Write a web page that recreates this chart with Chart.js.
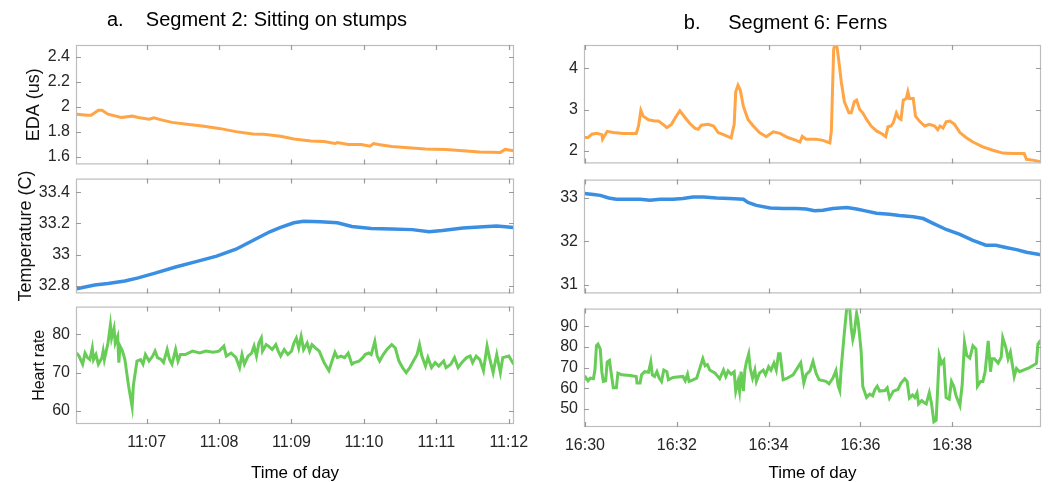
<!DOCTYPE html>
<html>
<head>
<meta charset="utf-8">
<script src="https://cdn.jsdelivr.net/npm/chart.js"></script>
<style>
  body { margin: 0; width: 1049px; height: 482px; overflow: hidden; position: relative; background: #fff; }
  canvas { position: absolute; }
</style>
</head>
<body>
<canvas id="edaA" width="529" height="180" style="left:0;top:0"></canvas>
<canvas id="tempA" width="529" height="146" style="left:0;top:163px"></canvas>
<canvas id="hrA" width="545" height="193" style="left:0;top:291px"></canvas>
<canvas id="edaB" width="519" height="179" style="left:530px;top:0"></canvas>
<canvas id="tempB" width="519" height="145" style="left:530px;top:164px"></canvas>
<canvas id="hrB" width="519" height="191" style="left:530px;top:293px"></canvas>
<script>
// time in seconds after the hour (11:xx for segment 2, 16:xx for segment 6)
const ticksA = [420, 480, 540, 600, 660, 720];
const tickLabelsA = ['11:07', '11:08', '11:09', '11:10', '11:11', '11:12'];
const ticksB = [1800, 1920, 2040, 2160, 2280];
const tickLabelsB = ['16:30', '16:32', '16:34', '16:36', '16:38'];

const edaTicksA = [1.6, 1.8, 2.0, 2.2, 2.4];
const edaLabelsA = ['1.6', '1.8', '2', '2.2', '2.4'];
const tempTicksA = [32.8, 33, 33.2, 33.4];
const tempLabelsA = ['32.8', '33', '33.2', '33.4'];
const hrTicksA = [60, 70, 80];
const edaTicksB = [2, 3, 4];
const tempTicksB = [31, 32, 33];
const hrTicksB = [50, 60, 70, 80, 90];

const edaA = [[362,1.94],[371,1.932],[374,1.932],[380,1.971],[383,1.971],[388,1.94],[399,1.913],[408,1.924],[413,1.913],[422,1.9],
  [426,1.911],[433,1.892],[441,1.874],[455,1.858],[466,1.845],[480,1.826],[494,1.8],[508,1.782],[517,1.779],[531,1.763],
  [542,1.742],[556,1.726],[567,1.721],[576,1.705],[578,1.713],[587,1.697],[598,1.697],[605,1.684],[608,1.705],[612,1.697],
  [623,1.682],[634,1.674],[651,1.661],[668,1.658],[682,1.647],[696,1.637],[713,1.634],[717,1.658],[724,1.647]];

const tempA = [[362,32.78],[377,32.804],[388,32.814],[402,32.83],[413,32.85],[427,32.88],[444,32.92],[461,32.954],[478,32.99],[494,33.034],
  [508,33.09],[522,33.146],[531,33.174],[542,33.204],[550,33.214],[564,33.21],[578,33.204],[590,33.18],[606,33.168],[623,33.164],
  [640,33.16],[654,33.146],[665,33.154],[682,33.17],[699,33.178],[710,33.184],[724,33.174]];

const hrA = [[362,75.1],[364,74.3],[367,72.2],[369,75.1],[371,73.9],[373,73.4],[375,76.4],[376,73.4],[378,74.7],[380,72.2],
  [383,73.9],[384,75.6],[385,73.4],[388,77.7],[390,82.4],[391,79],[393,81.5],[394,77.7],[396,79.4],[397,72.6],
  [398,76.9],[400,75.6],[402,73.4],[405,66.6],[408,61.1],[409,66.6],[412,73],[415,73.4],[417,72.2],[419,74.7],
  [422,73],[425,74.3],[427,75.6],[429,73.9],[432,73.4],[434,72.6],[437,76],[439,73.4],[441,72.2],[444,76],
  [446,73],[448,74.7],[452,74.7],[458,75.6],[464,75.1],[469,75.6],[475,75.3],[480,75.6],[484,76.9],[486,74.3],
  [490,75.1],[494,73.9],[497,71.3],[499,74.7],[501,72.2],[504,74.3],[507,75.1],[509,76.9],[511,74.3],[513,77.7],
  [515,79],[516,75.6],[519,77.3],[521,76.9],[524,76],[527,77.3],[529,75.6],[531,74.3],[534,76],[537,74.7],
  [540,75.6],[542,77.7],[544,79],[546,76.4],[548,79.4],[550,76],[553,77.7],[555,75.6],[557,77.3],[560,76.4],
  [563,75.6],[567,72.6],[571,70.5],[574,73.4],[576,75.3],[578,73.9],[581,74.3],[584,73.9],[587,75.1],[590,72.2],
  [592,72.6],[596,73],[599,73.9],[601,74.7],[604,75.1],[606,74.7],[609,78.1],[611,74.3],[613,73],[616,74.7],
  [619,76],[623,77.3],[626,76.4],[629,73],[632,71.3],[635,70],[638,71.3],[641,73],[644,74.7],[646,77.3],
  [648,74.3],[651,71.7],[653,73.9],[656,71.3],[659,72.6],[662,71.7],[666,73],[668,71.3],[672,72.2],[675,73.9],
  [678,71.3],[681,72.6],[685,73.9],[688,74.3],[690,72.6],[693,74.3],[696,73.4],[699,70.5],[702,76.9],[704,73.9],
  [707,70],[710,74.7],[713,70],[715,73.9],[720,74.3],[724,72.2]];

const edaB = [[1799,2.32],[1804,2.32],[1809,2.40],[1815,2.42],[1822,2.39],[1823,2.28],[1829,2.47],[1837,2.44],[1850,2.42],[1867,2.42],
  [1870,2.60],[1873,2.98],[1876,2.84],[1883,2.75],[1891,2.72],[1896,2.72],[1902,2.64],[1907,2.56],[1913,2.64],[1918,2.80],
  [1924,2.97],[1931,2.80],[1937,2.66],[1944,2.54],[1948,2.52],[1952,2.62],[1961,2.64],[1968,2.60],[1974,2.44],[1981,2.39],
  [1987,2.34],[1991,2.31],[1995,2.64],[1997,3.43],[2000,3.59],[2003,3.47],[2007,3.08],[2013,2.76],[2020,2.60],[2028,2.44],
  [2037,2.34],[2046,2.46],[2055,2.42],[2065,2.32],[2076,2.25],[2081,2.21],[2084,2.35],[2089,2.28],[2102,2.28],[2111,2.25],
  [2120,2.19],[2122,2.48],[2125,4.46],[2128,4.70],[2131,4.30],[2135,3.67],[2139,3.19],[2145,2.92],[2148,2.92],[2152,3.19],
  [2155,3.23],[2159,3.00],[2163,2.92],[2168,2.76],[2174,2.60],[2181,2.48],[2189,2.40],[2193,2.34],[2196,2.58],[2200,2.60],
  [2203,2.68],[2207,2.92],[2210,2.80],[2213,2.76],[2216,3.23],[2220,3.27],[2222,3.43],[2224,3.27],[2229,3.27],[2232,2.84],
  [2237,2.72],[2244,2.60],[2250,2.64],[2257,2.60],[2261,2.51],[2264,2.60],[2268,2.55],[2272,2.70],[2277,2.72],[2283,2.64],
  [2290,2.44],[2298,2.32],[2307,2.21],[2320,2.09],[2333,2.01],[2346,1.94],[2359,1.93],[2374,1.93],[2377,1.79],[2385,1.77],
  [2396,1.73]];

const tempB = [[1799,33.09],[1811,33.07],[1820,33.05],[1831,32.99],[1841,32.96],[1859,32.96],[1872,32.96],[1885,32.94],[1898,32.96],[1915,32.96],
  [1928,32.98],[1941,33.01],[1955,33.01],[1972,32.99],[1989,32.98],[2007,32.96],[2013,32.89],[2024,32.82],[2042,32.76],[2059,32.75],
  [2076,32.75],[2089,32.74],[2100,32.70],[2111,32.71],[2124,32.75],[2142,32.77],[2155,32.74],[2168,32.69],[2181,32.64],[2198,32.62],
  [2211,32.59],[2229,32.56],[2242,32.52],[2255,32.41],[2272,32.27],[2290,32.16],[2307,32.02],[2324,31.91],[2337,31.91],[2350,31.86],
  [2364,31.81],[2377,31.75],[2396,31.69]];

const hrB = [[1799,64.1],[1801,65.2],[1804,63.6],[1807,64.9],[1811,64.6],[1813,68.8],[1815,80.6],[1817,81.4],[1820,79],[1822,68],
  [1824,63.3],[1827,63.6],[1829,72.7],[1832,73.5],[1834,68],[1837,60.2],[1841,60.2],[1843,67.3],[1848,66.5],[1859,66.2],
  [1867,65.7],[1868,62.5],[1872,62.5],[1874,66.5],[1878,68],[1883,67.7],[1886,72.7],[1888,66.5],[1891,65.7],[1894,68],
  [1897,64.9],[1900,63.3],[1903,68.8],[1907,68],[1909,64.1],[1915,65.2],[1928,65.7],[1931,63.6],[1934,66.8],[1936,63.3],
  [1941,64.1],[1946,64.9],[1950,69.6],[1954,74.3],[1957,70.9],[1960,71.5],[1963,68.8],[1970,67.3],[1976,64.6],[1981,68.8],
  [1984,65.7],[1987,68.4],[1991,66.8],[1995,68],[1997,58.6],[2000,63.3],[2002,58.6],[2004,68],[2007,58.6],[2009,68.8],
  [2011,72.7],[2014,76.7],[2016,69.6],[2019,64.9],[2022,68.8],[2024,63.3],[2028,67.3],[2033,68.8],[2036,66.5],[2040,70.4],
  [2043,68.8],[2047,72.2],[2050,68.8],[2053,76.7],[2055,76.7],[2059,64.1],[2063,64.6],[2072,66.5],[2082,72.4],[2086,62.5],
  [2089,66.5],[2094,68.4],[2098,73],[2102,67.3],[2106,64.1],[2115,63.3],[2119,62.1],[2124,64.9],[2128,68.5],[2131,61],
  [2133,58.9],[2135,70.4],[2139,86.9],[2142,98.6],[2146,98.6],[2148,89.2],[2150,83.7],[2152,86.9],[2155,96.3],[2157,92.4],
  [2159,85.3],[2161,77.5],[2163,61],[2168,55.5],[2172,57.1],[2176,56.3],[2179,59.4],[2182,61],[2185,58.6],[2192,58.9],
  [2195,60.2],[2198,55.2],[2203,58.6],[2209,59.4],[2213,62.5],[2218,64.6],[2221,63.3],[2224,55.2],[2228,56.7],[2231,55.5],
  [2234,57.8],[2236,52.4],[2240,54],[2243,53.1],[2246,52.4],[2250,57.8],[2253,52.4],[2256,43.7],[2259,44.5],[2263,75.9],
  [2266,72],[2269,73.5],[2272,55.5],[2276,54.7],[2279,63.3],[2282,61],[2285,56.3],[2290,51.6],[2293,61.8],[2296,82.2],
  [2299,75.9],[2303,74.6],[2307,80.6],[2311,79],[2313,61],[2317,63.3],[2320,63.3],[2323,68],[2327,82.9],[2330,68],
  [2332,74.3],[2335,74.3],[2340,72.2],[2344,75.1],[2346,84.5],[2350,79.8],[2353,74.3],[2356,77.5],[2358,72.7],[2361,65.7],
  [2364,69.6],[2368,68],[2381,70],[2390,72],[2392,81.4],[2394,82.5],[2396,81.4]];

const ORANGE = '#ffa545';
const BLUE = '#3a8fe2';
const GREEN = '#67cd57';

Chart.defaults.font.family = '"Liberation Sans", Arial, sans-serif';
Chart.defaults.color = '#262626';

// MATLAB style box with inward ticks on all four sides
const boxPlugin = {
  id: 'box',
  afterDatasetsDraw(chart) {
    const { ctx, chartArea: a, scales: { x, y } } = chart;
    ctx.save();
    ctx.strokeStyle = '#bdbdbd';
    ctx.lineWidth = 1.2;
    ctx.strokeRect(a.left + 0.5, a.top + 0.5, a.right - a.left - 1, a.bottom - a.top - 1);
    ctx.strokeStyle = '#9a9a9a';
    ctx.beginPath();
    x.ticks.forEach(t => {
      const px = Math.round(x.getPixelForValue(t.value)) + 0.5;
      ctx.moveTo(px, a.top); ctx.lineTo(px, a.top + 5);
      ctx.moveTo(px, a.bottom); ctx.lineTo(px, a.bottom - 5);
    });
    y.ticks.forEach(t => {
      const py = Math.round(y.getPixelForValue(t.value)) + 0.5;
      ctx.moveTo(a.left, py); ctx.lineTo(a.left + 5, py);
      ctx.moveTo(a.right, py); ctx.lineTo(a.right - 5, py);
    });
    ctx.stroke();
    ctx.restore();
  }
};

function makeChart(id, o) {
  new Chart(document.getElementById(id), {
    type: 'line',
    data: {
      datasets: [{
        data: o.points.map(([x, y]) => ({ x, y })),
        borderColor: o.color,
        borderWidth: o.lineWidth || 3,
        pointRadius: 0,
        tension: 0
      }]
    },
    options: {
      responsive: false,
      animation: false,
      layout: { padding: o.padding },
      plugins: {
        legend: { display: false },
        tooltip: { enabled: false },
        title: {
          display: !!o.title,
          text: o.title,
          color: '#000',
          font: { size: 20, weight: 'normal' },
          padding: o.titlePad || 0
        }
      },
      scales: {
        x: {
          type: 'linear',
          min: o.xMin, max: o.xMax,
          afterBuildTicks: s => { s.ticks = o.xTicks.map(v => ({ value: v })); },
          afterFit: s => { s.height = o.xHeight; },
          ticks: {
            display: o.showX,
            autoSkip: false, maxRotation: 0,
            padding: 9,
            font: { size: o.tickSize },
            callback: (v, i) => o.xLabels[i]
          },
          grid: { display: false, drawTicks: false },
          border: { display: false },
          title: {
            display: o.showX,
            text: 'Time of day',
            color: '#000',
            font: { size: 17 },
            padding: { top: 0, bottom: 0 }
          }
        },
        y: {
          min: o.yMin, max: o.yMax,
          afterBuildTicks: s => { s.ticks = o.yTicks.map(v => ({ value: v })); },
          afterFit: s => { s.width = o.yWidth; },
          ticks: {
            padding: 6,
            font: { size: o.tickSize },
            callback: (v, i) => o.yLabels ? o.yLabels[i] : String(o.yTicks[i])
          },
          grid: { display: false, drawTicks: false },
          border: { display: false },
          title: {
            display: !!o.yTitle,
            text: o.yTitle,
            color: '#111',
            font: { size: o.yTitleSize || 18 },
            padding: { top: o.yTitlePad || 0, bottom: 0 }
          }
        }
      }
    },
    plugins: [boxPlugin]
  });
}

const colA = { xMin: 361.5, xMax: 724.3, xTicks: ticksA, xLabels: tickLabelsA, yWidth: 76, tickSize: 16 };
const colB = { xMin: 1798.7, xMax: 2396, xTicks: ticksB, xLabels: tickLabelsB, yWidth: 54, tickSize: 16 };

makeChart('edaA', Object.assign({}, colA, {
  points: edaA, color: ORANGE, yMin: 1.538, yMax: 2.493, yTicks: edaTicksA, yLabels: edaLabelsA,
  yTitle: 'EDA (us)', yTitlePad: 23, title: 'a.    Segment 2: Sitting on stumps',
  titlePad: { top: 8, bottom: 13 }, padding: { top: 0, right: 15, bottom: 12, left: 0 },
  showX: false, xHeight: 0
}));
makeChart('tempA', Object.assign({}, colA, {
  points: tempA, color: BLUE, lineWidth: 3.5, yMin: 32.75, yMax: 33.488, yTicks: tempTicksA, yLabels: tempLabelsA,
  yTitle: 'Temperature (C)', yTitlePad: 15,
  padding: { top: 12, right: 15, bottom: 12, left: 0 }, showX: false, xHeight: 0
}));
makeChart('hrA', Object.assign({}, colA, {
  points: hrA, color: GREEN, yMin: 56.6, yMax: 87.2, yTicks: hrTicksA,
  yTitle: 'Heart rate', yTitleSize: 16, yTitlePad: 30,
  padding: { top: 12, right: 31, bottom: 0, left: 0 }, showX: true, xHeight: 60
}));
makeChart('edaB', Object.assign({}, colB, {
  points: edaB, color: ORANGE, yMin: 1.69, yMax: 4.57, yTicks: edaTicksB,
  title: 'b.     Segment 6: Ferns', titlePad: { top: 11, bottom: 10 },
  padding: { top: 0, right: 8, bottom: 12, left: 0 }, showX: false, xHeight: 0
}));
makeChart('tempB', Object.assign({}, colB, {
  points: tempB, color: BLUE, lineWidth: 3.5, yMin: 30.81, yMax: 33.41, yTicks: tempTicksB,
  padding: { top: 12, right: 8, bottom: 12, left: 0 }, showX: false, xHeight: 0
}));
makeChart('hrB', Object.assign({}, colB, {
  points: hrB, color: GREEN, yMin: 41.2, yMax: 98.6, yTicks: hrTicksB,
  padding: { top: 12, right: 8, bottom: 0, left: 0 }, showX: true, xHeight: 57
}));
</script>
</body>
</html>
